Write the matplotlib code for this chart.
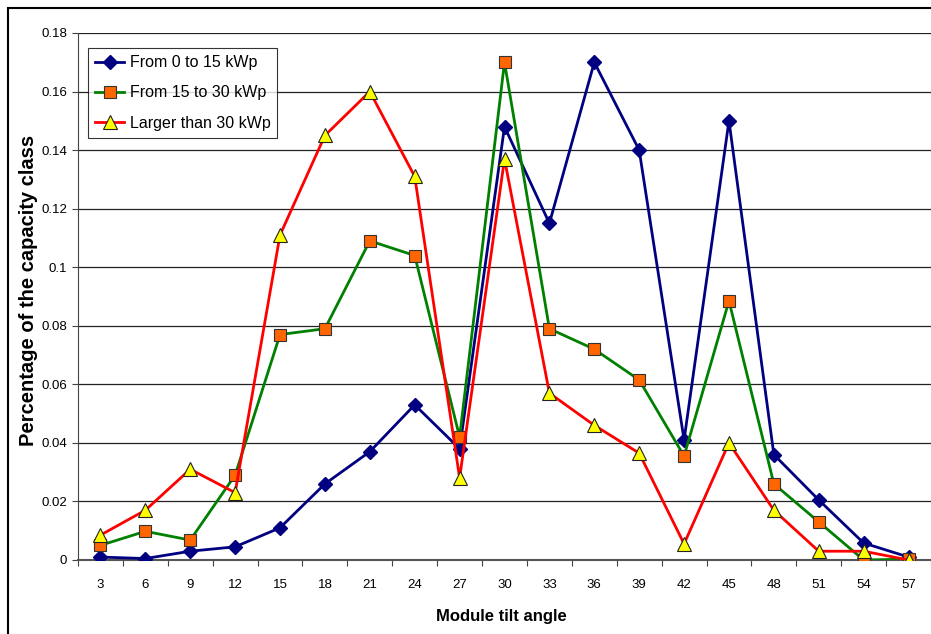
import matplotlib
matplotlib.use("Agg")
import matplotlib.pyplot as plt
from matplotlib.patches import Rectangle

plt.rcParams['font.family'] = ['Liberation Sans', 'DejaVu Sans']

angles = [3, 6, 9, 12, 15, 18, 21, 24, 27, 30, 33, 36, 39, 42, 45, 48, 51, 54, 57]
small = [0.001, 0.0005, 0.003, 0.0045, 0.011, 0.026, 0.037, 0.053, 0.038, 0.148,
         0.115, 0.170, 0.140, 0.041, 0.150, 0.036, 0.0205, 0.0058, 0.001]
medium = [0.005, 0.0098, 0.0068, 0.029, 0.077, 0.079, 0.109, 0.104, 0.042, 0.170,
          0.079, 0.072, 0.0615, 0.0355, 0.0885, 0.026, 0.013, 0.0, 0.0003]
large = [0.0085, 0.017, 0.031, 0.023, 0.111, 0.145, 0.160, 0.131, 0.028, 0.137,
         0.057, 0.046, 0.0365, 0.0055, 0.040, 0.017, 0.003, 0.003, 0.0]
series_names = ["From 0 to 15 kWp", "From 15 to 30 kWp", "Larger than 30 kWp"]
yticks = [0, 0.02, 0.04, 0.06, 0.08, 0.1, 0.12, 0.14, 0.16, 0.18]
ytick_labels = ["0", "0.02", "0.04", "0.06", "0.08", "0.1", "0.12", "0.14", "0.16", "0.18"]

W, H = 931, 634
fig = plt.figure(figsize=(W / 100, H / 100), dpi=100)
fig.patches.append(Rectangle((8 / W, -0.01), 1.02, 1 - 8 / H + 0.01, transform=fig.transFigure,
                             fill=False, edgecolor='black', linewidth=1.5))

ax = fig.add_axes([78 / W, 1 - 560 / H, (W - 78) / W, (560 - 33) / H])
x = list(range(len(angles)))

ax.plot(x, small, color='#000080', lw=2, marker='D', ms=7, mfc='#000080', mec='#000080',
        label=series_names[0], zorder=3)
ax.plot(x, medium, color='#008000', lw=2, marker='s', ms=9, mfc='#FF6600', mec='#333333', mew=0.8,
        label=series_names[1], zorder=4)
ax.plot(x, large, color='#FF0000', lw=2, marker='^', ms=10, mfc='#FFFF00', mec='#222222', mew=0.8,
        label=series_names[2], zorder=5)

ax.set_ylim(0, 0.18)
ax.set_xlim(-0.5, -0.5 + (W - 78) / 45.07)
ax.set_yticks(yticks)
ax.set_yticklabels(ytick_labels, fontsize=9.5)
ax.yaxis.grid(True, color='#222222', lw=0.9)
ax.set_axisbelow(True)

ax.set_xticks([i - 0.5 for i in range(len(angles) + 1)])
ax.set_xticklabels([])
ax.set_xticks(x, minor=True)
ax.set_xticklabels([str(a) for a in angles], minor=True, fontsize=9.5)
ax.tick_params(axis='x', which='minor', length=0, pad=14)
ax.tick_params(axis='x', which='major', length=4, color='#444444', direction='out')
ax.tick_params(axis='y', length=4, color='#444444', direction='out', pad=4)

for s in ['top', 'right']:
    ax.spines[s].set_visible(False)
ax.spines['left'].set_color('#444444')
ax.spines['bottom'].set_color('#555555')
ax.spines['bottom'].set_linewidth(1.5)

ax.set_xlabel("Module tilt angle", fontsize=12, fontweight='bold')
ax.xaxis.set_label_coords(0.5 - 3 / (W - 78), -(617 - 560) / 527, transform=ax.transAxes)
ax.xaxis.label.set_va('center')
ax.set_ylabel("Percentage of the capacity class", fontsize=14.5, fontweight='bold')
ax.yaxis.set_label_coords(-(78 - 29) / (W - 78), (560 - 290) / 527, transform=ax.transAxes)
ax.yaxis.label.set_va('center')

leg = ax.legend(loc='upper left', bbox_to_anchor=(10 / (W - 78), 1 - 15 / 527), fontsize=11.5,
                frameon=True, fancybox=False, edgecolor='black', borderpad=0.45,
                handlelength=1.8, handletextpad=0.35, labelspacing=0.95, borderaxespad=0)
leg.get_frame().set_linewidth(0.8)

fig.savefig("out.png", dpi=100)
